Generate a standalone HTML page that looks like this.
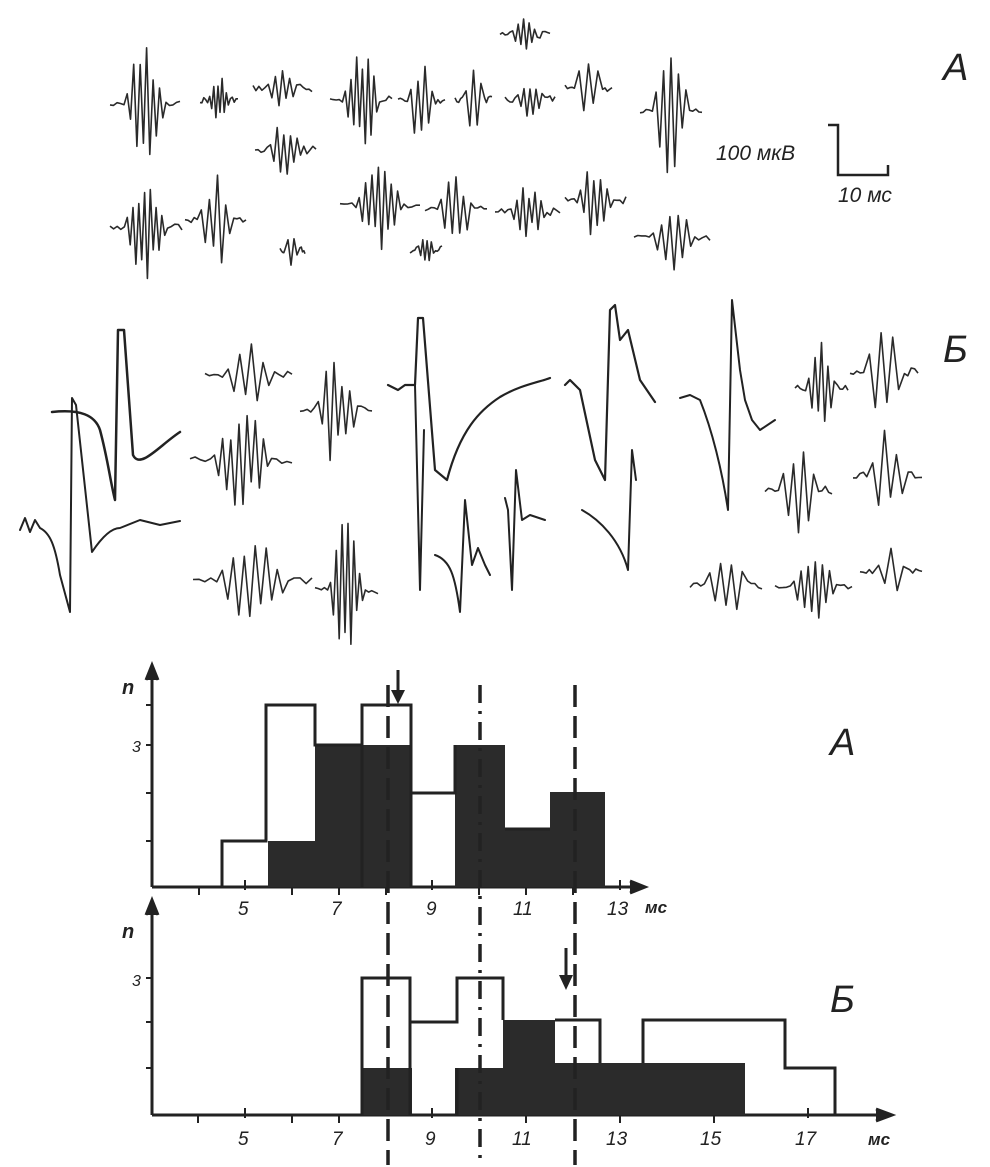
<!DOCTYPE html>
<html><head><meta charset="utf-8"><style>
html,body{margin:0;padding:0;background:#fff}
svg{display:block}
text{font-family:"Liberation Sans",sans-serif;font-style:italic;fill:#222}
</style></head><body>
<svg id="s" width="990" height="1167" viewBox="0 0 990 1167" xmlns="http://www.w3.org/2000/svg">
<rect width="990" height="1167" fill="#fff"/>
<g fill="none" stroke="#222" stroke-linejoin="round" stroke-linecap="round">
<!-- big Б traces -->
<path stroke-width="2.5" d="M52,412 C80,409 95,415 100,430 C108,460 110,480 115,500 L118,330 L124,330 L133,455 C140,470 160,445 180,432"/>
<path stroke-width="2" d="M20,530 L25,518 L30,532 L35,520 L40,528 C50,533 55,545 60,575 L70,612 L72,398 L76,405 L92,552 C100,540 110,528 120,528 L140,520 L160,525 L180,521"/>
<path stroke-width="2.2" d="M388,385 L398,390 L405,385 L415,385 L418,318 L423,318 L435,470 L447,480 C460,430 480,410 500,397 C520,385 540,382 550,378"/>
<path stroke-width="2" d="M415,385 L420,590 L424,430"/>
<path stroke-width="2" d="M435,555 C450,560 455,575 460,612 L465,500 L472,565 L478,548 L485,565 L490,575"/>
<path stroke-width="2" d="M505,498 L508,510 L512,590 L516,470 L522,520 L530,515 L545,520"/>
<path stroke-width="2" d="M582,510 C600,520 620,540 628,570 L632,450 L636,480"/>
<path stroke-width="2.2" d="M565,385 L570,380 L580,390 L595,460 L605,480 L610,310 L615,305 L620,340 L628,330 L640,380 L655,402"/>
<path stroke-width="2" d="M680,398 L690,395 L700,400 C712,430 722,470 728,510 L732,300 L740,370 L745,400 L752,420 L760,430 L775,420"/>
</g>
<g id="w" fill="none" stroke="#2a2a2a" stroke-linejoin="round" stroke-width="1.6"></g>
<!-- scale bar -->
<g stroke="#222" stroke-width="2.5" fill="none">
<path d="M828,125 L838,125 L838,175 L888,175 L888,165"/>
</g>
<text x="716" y="160" font-size="21">100 мкВ</text>
<text x="838" y="202" font-size="21">10 мс</text>
<text x="943" y="80" font-size="38">А</text>
<text x="943" y="362" font-size="38">Б</text>
<text x="830" y="755" font-size="38">А</text>
<text x="830" y="1012" font-size="38">Б</text>

<!-- Histogram A: X(v)=245+(v-5)*47, base 887, unit 46 -->
<g stroke="#222" stroke-width="3" fill="none">
<path d="M152,887 L152,670"/><path d="M152,887 L640,887"/>
<path d="M146,680 L152,665 L158,680" fill="#222"/>
<path d="M630,881 L645,887 L630,893" fill="#222"/>
</g>
<g fill="#2b2b2b">
<rect x="268" y="841" width="47" height="46"/>
<rect x="315" y="745" width="96" height="142"/>
<rect x="455" y="745" width="50" height="142"/>
<rect x="505" y="829" width="45" height="58"/>
<rect x="550" y="792" width="55" height="95"/>
</g>
<path fill="none" stroke="#222" stroke-width="3" d="M222,887 L222,841 L266,841 L266,705 L315,705 L315,745 L362,745 L362,705 L411,705 L411,793 L455,793 L455,745 M505,829 L550,829"/>
<path fill="none" stroke="#222" stroke-width="3" d="M362,745 L362,887 M411,793 L411,887"/>
<g stroke="#222" stroke-width="2"><path d="M199,887v8M245,880v10M292,887v8M339,887v8M386,887v8M432,880v10M479,887v8M526,887v8M573,887v8M620,880v10M146,841h6M146,793h6M146,745h6M146,705h6"/></g>
<g font-size="19"><text x="238" y="915">5</text><text x="331" y="915">7</text><text x="426" y="915">9</text><text x="513" y="915">11</text><text x="607" y="915">13</text></g>
<text x="645" y="913" font-size="17" font-weight="bold">мс</text>
<text x="122" y="694" font-size="20" font-weight="bold">n</text>
<text x="132" y="752" font-size="16">3</text>
<path d="M398,670 L398,698" stroke="#222" stroke-width="3"/><path d="M391,690 L398,704 L405,690Z" fill="#222"/>

<!-- Histogram B: base 1115 -->
<g stroke="#222" stroke-width="3" fill="none">
<path d="M152,1115 L152,905"/><path d="M152,1115 L885,1115"/>
<path d="M146,915 L152,900 L158,915" fill="#222"/>
<path d="M876,1109 L892,1115 L876,1121" fill="#222"/>
</g>
<g fill="#2b2b2b">
<rect x="362" y="1068" width="50" height="47"/>
<rect x="455" y="1068" width="50" height="47"/>
<rect x="503" y="1020" width="52" height="95"/>
<rect x="555" y="1063" width="190" height="52"/>
</g>
<path fill="none" stroke="#222" stroke-width="3" d="M362,1115 L362,978 L410,978 L410,1022 L457,1022 L457,978 L503,978 L503,1020 M555,1020 L600,1020 L600,1063 M643,1063 L643,1020 L785,1020 L785,1068 L835,1068 L835,1115 M745,1115 L835,1115"/>
<path fill="none" stroke="#222" stroke-width="3" d="M410,1022 L410,1115 L457,1115 L457,1068"/>
<g stroke="#222" stroke-width="2"><path d="M198,1115v8M245,1108v10M292,1115v8M339,1115v8M432,1108v10M526,1115v8M620,1115v8M714,1115v8M808,1108v10M146,1068h6M146,1022h6M146,978h6"/></g>
<g font-size="19"><text x="238" y="1145">5</text><text x="332" y="1145">7</text><text x="425" y="1145">9</text><text x="512" y="1145">11</text><text x="606" y="1145">13</text><text x="700" y="1145">15</text><text x="795" y="1145">17</text></g>
<text x="868" y="1145" font-size="17" font-weight="bold">мс</text>
<text x="122" y="938" font-size="20" font-weight="bold">n</text>
<text x="132" y="986" font-size="16">3</text>
<path d="M566,948 L566,983" stroke="#222" stroke-width="3"/><path d="M559,975 L566,990 L573,975Z" fill="#222"/>

<!-- dashed guide lines -->
<g stroke="#222" stroke-width="3.5" fill="none">
<path d="M388,685 L388,1165" stroke-dasharray="22,9"/>
<path d="M480,685 L480,1160" stroke-dasharray="18,8,3,8"/>
<path d="M575,685 L575,1165" stroke-dasharray="22,9"/>
</g>
</svg>
<script>
(function(){
var g=document.getElementById('w');var seed=7;
function r(){seed=(seed*9301+49297)%233280;return seed/233280;}
function sq(x0,x1,y,amp,n){
 var p=[],w=x1-x0,i;
 for(i=0;i<=4;i++)p.push([x0+w*0.2*i/4,y+(r()-.5)*6]);
 for(i=1;i<=n;i++){var t=i/(n+1),env=Math.sin(Math.PI*t);
  p.push([x0+w*(0.2+0.6*t),y+(i%2?-1:1)*amp*env*(0.5+r()*0.7)]);}
 for(i=0;i<=4;i++)p.push([x0+w*(0.8+0.2*i/4),y+(r()-.5)*8]);
 var s=document.createElementNS('http://www.w3.org/2000/svg','polyline');
 s.setAttribute('points',p.map(function(q){return q[0].toFixed(1)+','+q[1].toFixed(1)}).join(' '));
 g.appendChild(s);}
var L=[
[110,180,105,55,12],[200,238,100,20,10],[253,312,88,18,9],[330,392,100,45,12],[398,445,100,40,7],[455,492,100,30,5],[505,555,100,20,9],[500,550,35,14,10],[565,612,88,30,5],[640,702,110,55,9],
[255,316,150,25,10],
[110,182,228,45,14],[185,246,220,45,8],[280,305,250,15,4],[340,420,205,38,14],[425,487,210,30,9],[410,442,250,14,8],[495,560,212,22,12],[565,626,200,38,10],[634,710,238,30,10],
[205,292,375,30,8],[190,292,460,45,14],[193,312,580,45,12],[300,372,410,50,10],[315,378,590,60,12],
[690,762,585,30,7],[765,832,490,40,7],[775,852,588,38,12],[795,848,388,40,9],[850,918,372,40,6],[853,922,475,40,6],[860,922,572,22,5]
];
L.forEach(function(a){sq.apply(null,a)});
})();
</script>
</body></html>
